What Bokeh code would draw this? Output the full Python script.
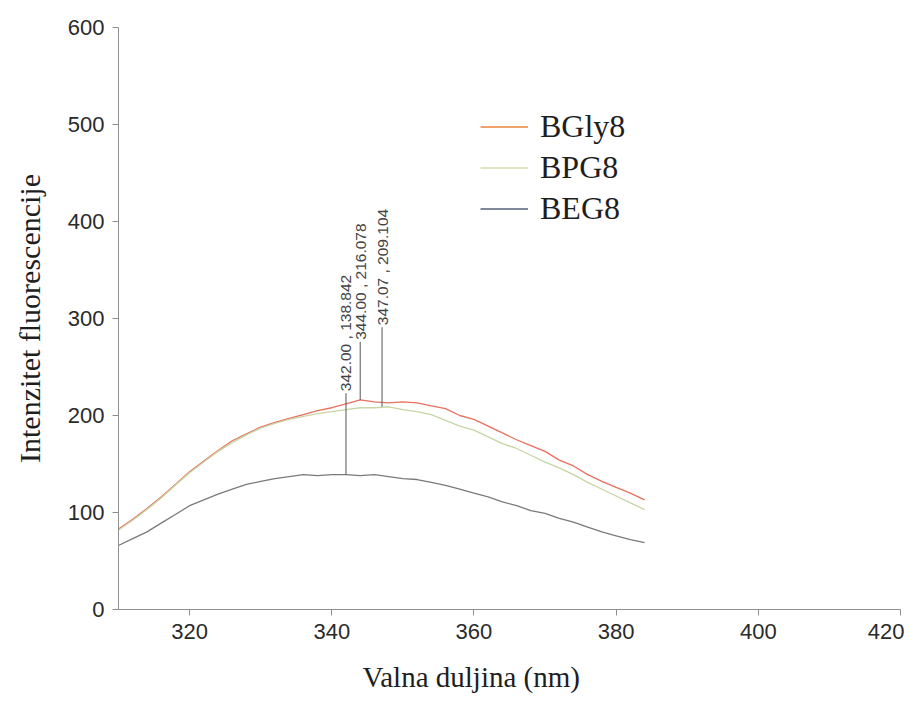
import math
from bokeh.plotting import figure
from bokeh.models import Range1d, FixedTicker, Legend, LegendItem, Title
from bokeh.core.properties import value
from bokeh.embed import file_html
from bokeh.resources import INLINE

# ---- data ----
wavelength = [310, 312, 314, 316, 318, 320, 322, 324, 326, 328,
              330, 332, 334, 336, 338, 340, 342, 344, 346, 348,
              350, 352, 354, 356, 358, 360, 362, 364, 366, 368,
              370, 372, 374, 376, 378, 380, 382, 384]

bgly8 = [83, 93, 104, 116, 129, 142, 153, 164, 174, 181,
         188, 193, 197, 201, 205, 208, 212, 216, 214, 213,
         214, 213, 210, 207, 200, 196, 189, 182, 175, 169,
         163, 154, 148, 139, 132, 126, 120, 113]

bpg8 = [82, 92, 103, 115, 128, 141, 152, 163, 172, 180,
        187, 192, 196, 199, 202, 204, 206, 208, 208, 209,
        206, 204, 201, 195, 189, 185, 178, 171, 166, 159,
        152, 146, 139, 131, 124, 117, 110, 103]

beg8 = [66, 73, 80, 89, 98, 107, 113, 119, 124, 129,
        132, 135, 137, 139, 138, 139, 139, 138, 139, 137,
        135, 134, 131, 128, 124, 120, 116, 111, 107, 102,
        99, 94, 90, 85, 80, 76, 72, 69]

series_names = ["BGly8", "BPG8", "BEG8"]

peak_x = [342.00, 344.00, 347.07]
peak_y = [138.842, 216.078, 209.104]
peak_labels = ["342.00 , 138.842", "344.00 , 216.078", "347.07 , 209.104"]
label_top = [223, 276, 291]

x_ticks = [320, 340, 360, 380, 400, 420]
y_ticks = [0, 100, 200, 300, 400, 500, 600]

x_title = "Valna duljina (nm)"
y_title = "Intenzitet fluorescencije"

# ---- styling ----
line_colors = ["#e8705f", "#c6d6a4", "#7a7a7a"]
legend_colors = ["#e8843c", "#d4dca8", "#56627a"]
axis_color = "#8f8f8f"

W, H = 904, 710
p = figure(width=W, height=H, output_backend="svg", toolbar_location=None,
           x_range=Range1d(310, 420), y_range=Range1d(0, 600),
           min_border_left=118, min_border_right=4, min_border_top=27,
           min_border_bottom=H - 609)
p.outline_line_color = None
p.xgrid.visible = False
p.ygrid.visible = False
p.background_fill_color = "white"
p.border_fill_color = "white"

for ax in (p.xaxis, p.yaxis):
    ax.axis_line_color = axis_color
    ax.major_tick_line_color = axis_color
    ax.minor_tick_line_color = None
    ax.major_tick_out = 6
    ax.major_tick_in = 0
    ax.major_label_text_font = "Liberation Sans"
    ax.major_label_text_font_size = "22px"
    ax.major_label_text_color = "#2a2a2a"
    ax.major_label_standoff = 8
    ax.axis_label_text_font = "Liberation Serif"
    ax.axis_label_text_font_style = "normal"
    ax.axis_label_text_font_size = "30px"
    ax.axis_label_text_color = "#1e1e1e"

p.xaxis.ticker = FixedTicker(ticks=x_ticks)
p.yaxis.ticker = FixedTicker(ticks=y_ticks)
p.yaxis.axis_label = y_title
p.yaxis.axis_label_standoff = 19

# x title placed as in the reference (left of the frame centre)
xt = Title(text=x_title, align="left", offset=244, standoff=35,
           text_font="Liberation Serif", text_font_size="29px",
           text_font_style="normal", text_color="#1e1e1e")
p.add_layout(xt, "below")

data = [bgly8, bpg8, beg8]
for vals, col in zip(data, line_colors):
    p.line(wavelength, vals, line_color=col, line_width=1.3)

# peak annotations
p.segment(x0=peak_x, y0=peak_y, x1=peak_x, y1=label_top,
          line_color="#555555", line_width=1)
p.text(x=peak_x, y=label_top, text=peak_labels, angle=math.pi / 2,
       text_align="left", text_baseline="middle", y_offset=-2,
       text_font=value("Liberation Sans"), text_font_size="15.5px",
       text_color="#444444")

# legend with its own colours (dummy renderers carrying no data)
items = []
for name, col in zip(series_names, legend_colors):
    r = p.line([float("nan")], [float("nan")], line_color=col, line_width=1.5)
    items.append(LegendItem(label=name, renderers=[r]))

legend = Legend(items=items, location=(362, 382))
legend.border_line_color = None
legend.background_fill_alpha = 0
legend.label_text_font = "Liberation Serif"
legend.label_text_font_size = "32px"
legend.label_text_color = "#1e1e1e"
legend.glyph_width = 48
legend.glyph_height = 37
legend.label_height = 37
legend.label_standoff = 12
legend.spacing = 4
legend.padding = 0
legend.margin = 0
p.add_layout(legend, "center")

open("out.html", "w").write(file_html(p, INLINE))
